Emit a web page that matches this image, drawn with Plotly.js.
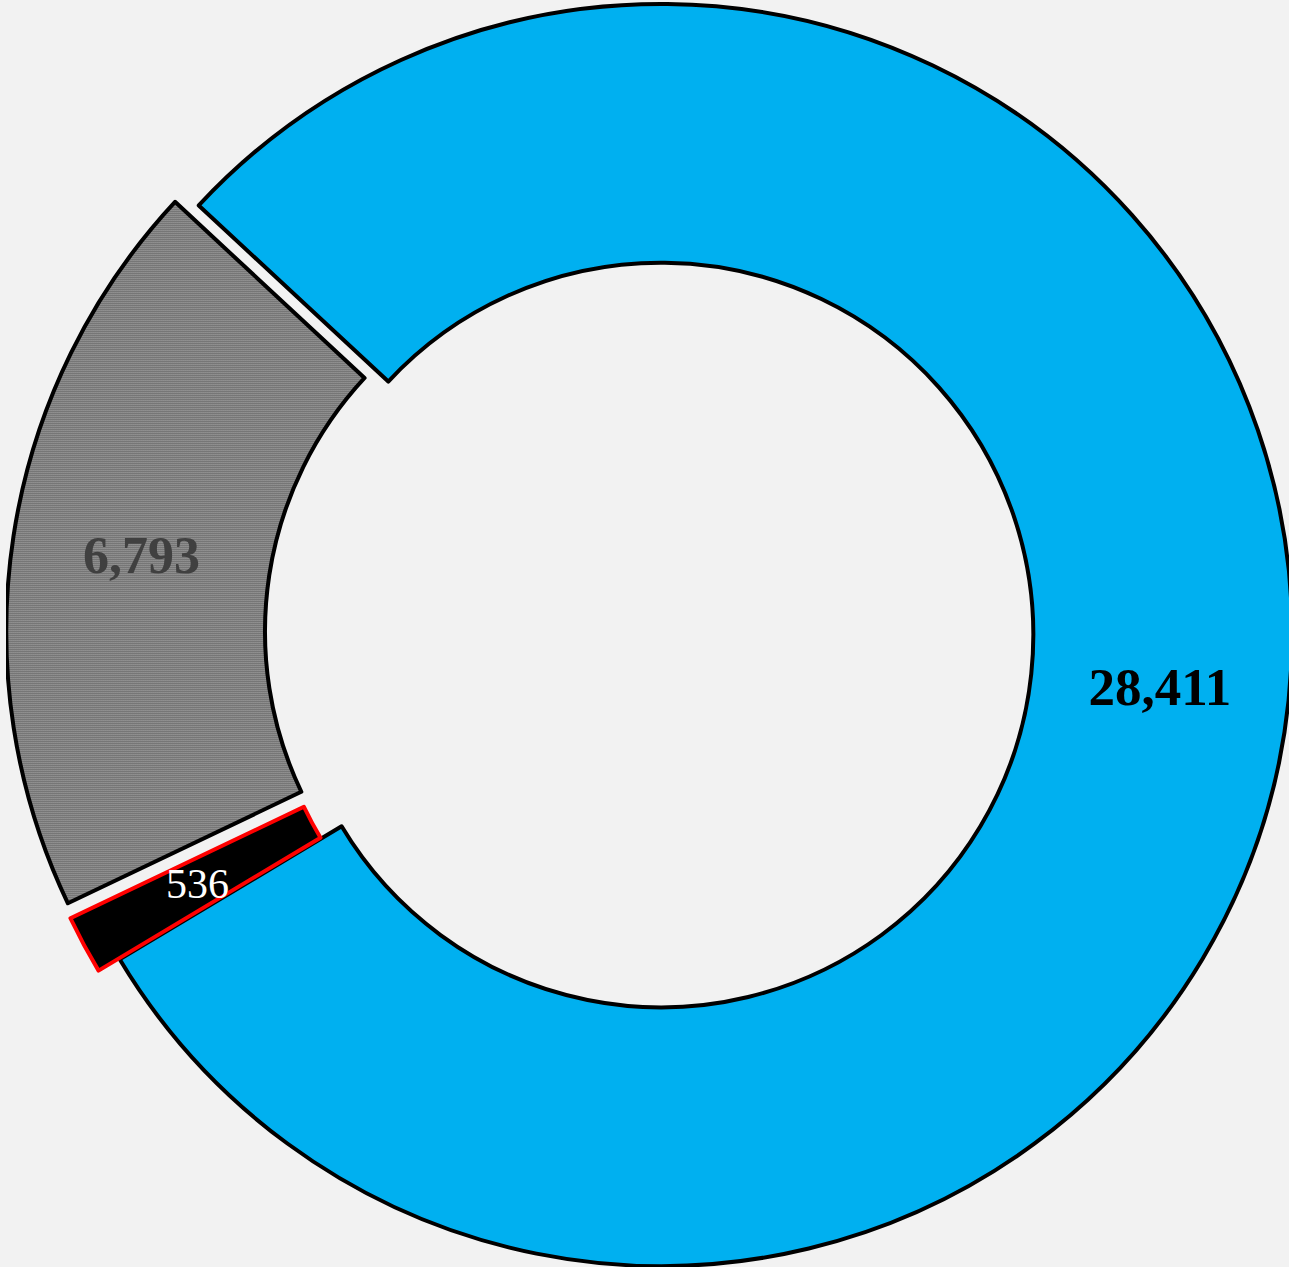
<!DOCTYPE html>
<html>
<head>
<meta charset="utf-8">
<script src="https://cdn.plot.ly/plotly-3.0.1.min.js"></script>
<style>
  html, body { margin: 0; padding: 0; width: 1289px; height: 1267px; overflow: hidden; background: #F2F2F2; }
  #chart { position: absolute; left: 6px; top: -20px; width: 1310px; height: 1310px; }
</style>
</head>
<body>
<div id="chart"></div>
<script>
// Data
const labels = ["Category A", "Category B", "Category C"];
const values = [28411, 536, 6793];
const sliceColors = ["#00B0F0", "#000000", "#FFFFFF"];
const lineColors = ["#000000", "#FF0000", "#000000"];
const textColors = ["#000000", "#FFFFFF", "#404040"];

const pulls = [0, 0.038, 0.038];
const hole = 0.59;
const rotation = -47.1;
const W = 1310, H = 1310;
const serif = "Liberation Serif, Times New Roman, serif";

const trace = {
  type: "pie",
  labels: labels,
  values: values,
  sort: false,
  direction: "clockwise",
  rotation: rotation,
  hole: hole,
  pull: pulls,
  marker: {
    colors: sliceColors,
    line: { color: lineColors, width: 4 },
    pattern: {
      shape: ["", "", "."],
      size: 2,
      solidity: 0.55,
      fgcolor: ["#000000", "#000000", "#000000"],
      bgcolor: ["#00B0F0", "#000000", "#FFFFFF"]
    }
  },
  textinfo: "value",
  texttemplate: ["%{value:,}", "", "%{value:,}"],
  textposition: "inside",
  insidetextorientation: "horizontal",
  textfont: {
    family: serif,
    size: [53, 42, 52],
    color: textColors,
    weight: ["bold", "normal", "bold"]
  },
  hoverinfo: "label+value+percent",
  showlegend: false
};

// Label for the thin slice, placed at its mid-angle from the data
const total = values.reduce((a, b) => a + b, 0);
const maxPull = Math.max(...pulls);
const r = Math.min(W, H) / 2 / (1 + maxPull);
const idx = 1;
const before = values.slice(0, idx).reduce((a, b) => a + b, 0);
const midAngle = (rotation + (before + values[idx] / 2) / total * 360) * Math.PI / 180;
const rr = (r + hole * r) / 2 + pulls[idx] * r;
const ax = 0.5 + rr * Math.sin(midAngle) / W;
const ay = 0.5 + rr * Math.cos(midAngle) / H;

const layout = {
  width: W,
  height: H,
  margin: { l: 0, r: 0, t: 0, b: 0, pad: 0 },
  paper_bgcolor: "#F2F2F2",
  plot_bgcolor: "#F2F2F2",
  showlegend: false,
  annotations: [{
    xref: "paper", yref: "paper",
    x: ax, y: ay,
    xanchor: "center", yanchor: "middle",
    text: values[idx].toLocaleString("en-US"),
    showarrow: false,
    font: { family: serif, size: 42, color: textColors[idx] }
  }]
};

Plotly.newPlot("chart", [trace], layout, { displayModeBar: false, responsive: false });
</script>
</body>
</html>
